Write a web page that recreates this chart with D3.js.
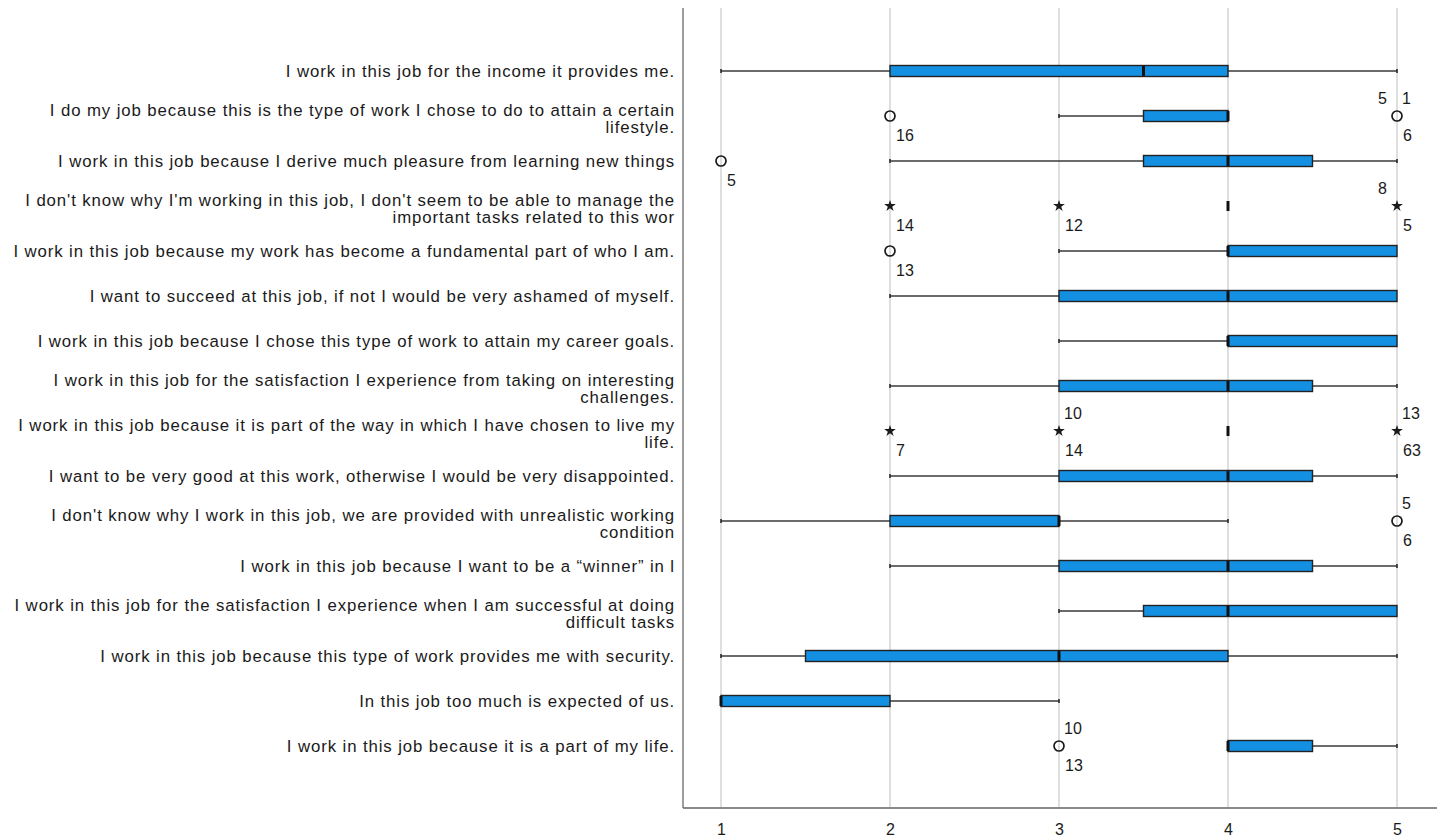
<!DOCTYPE html>
<html>
<head>
<meta charset="utf-8">
<script src="https://cdn.jsdelivr.net/npm/d3@7"></script>
<style>
  html, body { margin: 0; padding: 0; background: #fff; }
  svg { display: block; }
  text { font-family: "Liberation Sans", Arial, sans-serif; fill: #1a1a1a; }
</style>
</head>
<body>
<svg id="chart" width="1442" height="840"></svg>
<script>
// Item wording (each entry may wrap onto two lines)
const categories = [
  ["I work in this job for the income it provides me."],
  ["I do my job because this is the type of work I chose to do to attain a certain", "lifestyle."],
  ["I work in this job because I derive much pleasure from learning new things"],
  ["I don't know why I'm working in this job, I don't seem to be able to manage the", "important tasks related to this wor"],
  ["I work in this job because my work has become a fundamental part of who I am."],
  ["I want to succeed at this job, if not I would be very ashamed of myself."],
  ["I work in this job because I chose this type of work to attain my career goals."],
  ["I work in this job for the satisfaction I experience from taking on interesting", "challenges."],
  ["I work in this job because it is part of the way in which I have chosen to live my", "life."],
  ["I want to be very good at this work, otherwise I would be very disappointed."],
  ["I don't know why I work in this job, we are provided with unrealistic working", "condition"],
  ["I work in this job because I want to be a \u201Cwinner\u201D in l"],
  ["I work in this job for the satisfaction I experience when I am successful at doing", "difficult tasks"],
  ["I work in this job because this type of work provides me with security."],
  ["In this job too much is expected of us."],
  ["I work in this job because it is a part of my life."]
];

// Five-number summaries per item
const whiskerLow  = [1, 3,   2,   4, 3, 2, 3, 2,   4, 2,   1, 2,   3,   1,   1, 4];
const q1          = [2, 3.5, 3.5, 4, 4, 3, 4, 3,   4, 3,   2, 3,   3.5, 1.5, 1, 4];
const median      = [3.5, 4, 4,   4, 4, 4, 4, 4,   4, 4,   3, 4,   4,   3,   1, 4];
const q3          = [4, 4,   4.5, 4, 5, 5, 5, 4.5, 4, 4.5, 3, 4.5, 5,   4,   2, 4.5];
const whiskerHigh = [5, 4,   5,   4, 5, 5, 5, 5,   4, 5,   4, 5,   5,   5,   3, 5];

// Outliers: row index, value, marker type, case labels (al = above-left, ar = above-right, br = below-right)
const outliers = [
  { row: 1,  value: 2, type: "circle", labels: { br: "16" } },
  { row: 1,  value: 5, type: "circle", labels: { al: "5", ar: "1", br: "6" } },
  { row: 2,  value: 1, type: "circle", labels: { br: "5" } },
  { row: 3,  value: 2, type: "star",   labels: { br: "14" } },
  { row: 3,  value: 3, type: "star",   labels: { br: "12" } },
  { row: 3,  value: 5, type: "star",   labels: { al: "8", br: "5" } },
  { row: 4,  value: 2, type: "circle", labels: { br: "13" } },
  { row: 8,  value: 2, type: "star",   labels: { br: "7" } },
  { row: 8,  value: 3, type: "star",   labels: { ar: "10", br: "14" } },
  { row: 8,  value: 5, type: "star",   labels: { ar: "13", br: "63" } },
  { row: 10, value: 5, type: "circle", labels: { ar: "5", br: "6" } },
  { row: 15, value: 3, type: "circle", labels: { ar: "10", br: "13" } }
];

const xTicks = [1, 2, 3, 4, 5];

const svg = d3.select("#chart");
const W = 1442, H = 840;
svg.append("rect").attr("width", W).attr("height", H).attr("fill", "#fff");

const plotLeft = 683, plotRight = 1437, plotTop = 8, plotBottom = 808;
const labelFont = 16.8, labelSpacing = 0.9, numFont = 16;

const x = d3.scaleLinear().domain([1, 5]).range([721, 1397]);
const rows = d3.range(categories.length);
const y = d3.scaleBand().domain(rows).range([48.5, 768.5]).paddingInner(0).paddingOuter(0);
const cy = i => y(i) + y.bandwidth() / 2;

// Vertical grid lines
svg.append("g").selectAll("line").data(xTicks).join("line")
  .attr("x1", d => x(d)).attr("x2", d => x(d))
  .attr("y1", plotTop).attr("y2", plotBottom)
  .attr("stroke", "#c9c9c9").attr("stroke-width", 1.2);

// Axes: bottom with tick labels, left as a plain frame line
const xAxis = d3.axisBottom(x).tickValues(xTicks).tickFormat(d3.format("d")).tickSize(0).tickPadding(16);
const gx = svg.append("g").attr("transform", `translate(0,${plotBottom})`).call(xAxis);
gx.select(".domain").remove();
gx.selectAll("text").attr("font-size", numFont).attr("fill", "#1a1a1a")
  .style("font-family", "'Liberation Sans', Arial, sans-serif");
svg.append("line").attr("x1", plotLeft).attr("x2", plotRight)
  .attr("y1", plotBottom).attr("y2", plotBottom)
  .attr("stroke", "#8a8a8a").attr("stroke-width", 2);
svg.append("line").attr("x1", plotLeft).attr("x2", plotLeft)
  .attr("y1", plotTop).attr("y2", plotBottom)
  .attr("stroke", "#6a6a6a").attr("stroke-width", 1.3);

// Category labels
const labelG = svg.append("g");
rows.forEach(i => {
  const lines = categories[i];
  const t = labelG.append("text")
    .attr("text-anchor", "end")
    .attr("font-size", labelFont)
    .attr("letter-spacing", labelSpacing)
    .attr("x", 675);
  if (lines.length === 1) {
    t.append("tspan").attr("x", 675).attr("y", cy(i)).attr("dy", "0.35em").text(lines[0]);
  } else {
    t.append("tspan").attr("x", 675).attr("y", cy(i) - 6).attr("dy", "0.35em").text(lines[0]);
    t.append("tspan").attr("x", 675).attr("y", cy(i) + 11).attr("dy", "0.35em").text(lines[1]);
  }
});

// Boxplots
const boxH = 11, capH = 4;
const boxes = svg.append("g");
rows.forEach(i => {
  const c = cy(i);
  const g = boxes.append("g");
  const whisk = (a, b) => {
    if (a === b) return;
    g.append("line").attr("x1", x(a)).attr("x2", x(b)).attr("y1", c).attr("y2", c)
      .attr("stroke", "#3a3a3a").attr("stroke-width", 1.6);
  };
  const cap = v => {
    g.append("line").attr("x1", x(v)).attr("x2", x(v)).attr("y1", c - capH / 2).attr("y2", c + capH / 2)
      .attr("stroke", "#2a2a2a").attr("stroke-width", 1.6);
  };
  whisk(whiskerLow[i], q1[i]);
  whisk(q3[i], whiskerHigh[i]);
  if (whiskerLow[i] < q1[i]) cap(whiskerLow[i]);
  if (whiskerHigh[i] > q3[i]) cap(whiskerHigh[i]);
  g.append("rect")
    .attr("x", x(q1[i])).attr("y", c - boxH / 2)
    .attr("width", x(q3[i]) - x(q1[i])).attr("height", boxH)
    .attr("fill", "#1490e3").attr("stroke", "#222").attr("stroke-width", 1.4);
  g.append("line").attr("x1", x(median[i])).attr("x2", x(median[i]))
    .attr("y1", c - boxH / 2 + 0.5).attr("y2", c + boxH / 2 - 0.5)
    .attr("stroke", "#111").attr("stroke-width", 3);
});

// Outlier markers and case labels
const outG = svg.append("g");
const star = d3.symbol().type(d3.symbolStar).size(42);
outliers.forEach(o => {
  const px = x(o.value), py = cy(o.row);
  if (o.type === "circle") {
    outG.append("circle").attr("cx", px).attr("cy", py).attr("r", 5)
      .attr("fill", "none").attr("stroke", "#1a1a1a").attr("stroke-width", 1.7);
  } else {
    outG.append("path").attr("d", star()).attr("transform", `translate(${px},${py})`)
      .attr("fill", "#1a1a1a");
  }
  const L = o.labels;
  const lab = (tx, ty, s) => outG.append("text").attr("x", tx).attr("y", ty)
    .attr("dy", "0.35em").attr("font-size", numFont).text(s);
  if (L.br) lab(px + 6, py + 19, L.br);
  if (L.ar) lab(px + 5, py - 18, L.ar);
  if (L.al) lab(px - 19, py - 18, L.al);
});
</script>
</body>
</html>
